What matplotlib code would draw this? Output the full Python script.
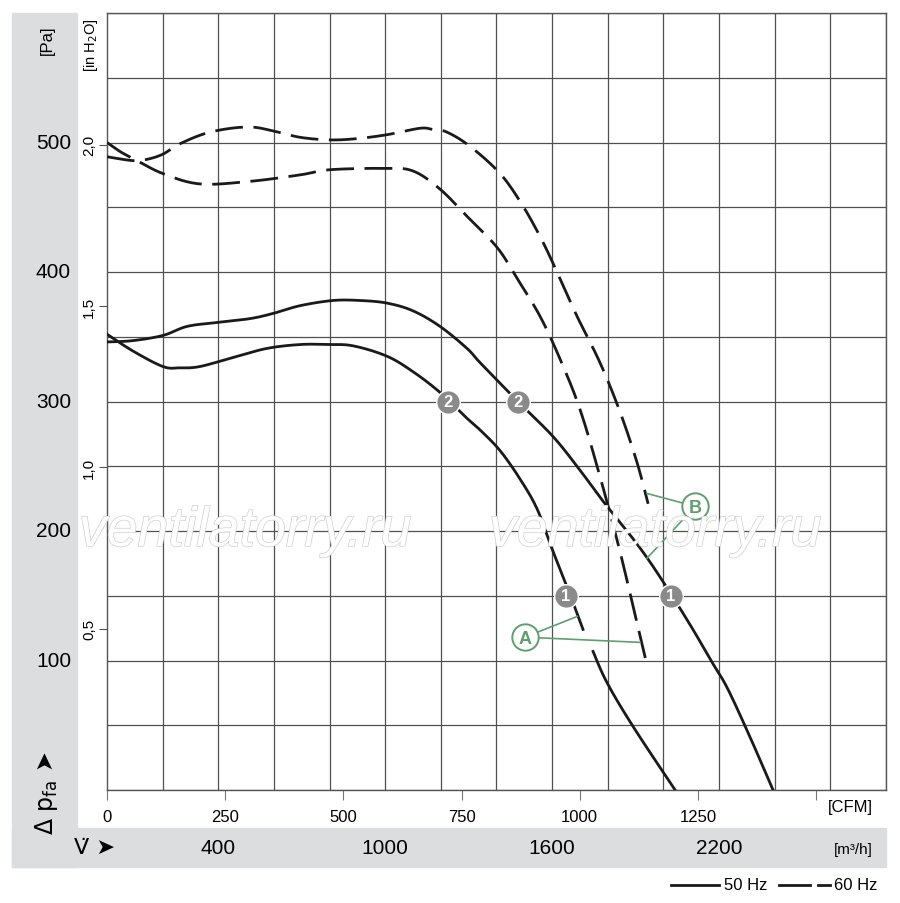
import matplotlib
matplotlib.use('Agg')
import numpy as np
import matplotlib.pyplot as plt
import matplotlib.patheffects as pe
from matplotlib.lines import Line2D
from matplotlib.patches import Rectangle
import matplotlib.transforms as mtransforms

# flow in m3/h, pressure in Pa
a50_q = [0, 93, 201, 262, 334, 453, 575, 694, 791, 884, 1006, 1100, 1197, 1294,
         1341, 1413, 1485, 1546, 1600, 1657, 1711]
a50_p = [352, 339, 327, 326, 327, 334, 341, 344, 344, 343, 335, 323, 307, 287,
         278, 262, 240, 217, 186, 155, 124]
a50_tail_q = [1747, 1797, 1891, 2042]
a50_tail_p = [107, 83, 49, 0]

b50_q = [0, 93, 201, 288, 395, 514, 597, 694, 812, 909, 1006, 1100, 1197, 1294,
         1341, 1477, 1603, 1700, 1783, 1880, 1952, 2031, 2106, 2168, 2229, 2311, 2394]
b50_p = [346, 347, 351, 358, 361, 364, 368, 374, 378, 378, 376, 370, 358, 341,
         330, 300, 273, 247, 223, 197, 176, 150, 124, 101, 79, 41, 0]

a60_q = [0, 47, 108, 201, 334, 514, 694, 802, 999, 1100, 1197, 1294, 1402, 1474,
         1556, 1628, 1700, 1772, 1844, 1916, 1937]
a60_p = [500, 493, 486, 476, 468, 470, 475, 479, 480, 478, 464, 443, 419, 395,
         366, 333, 294, 242, 184, 119, 100]

b60_q = [0, 93, 144, 201, 262, 370, 503, 597, 694, 802, 899, 1006, 1125, 1172,
         1222, 1305, 1413, 1495, 1567, 1628, 1689, 1772, 1844, 1905, 1945]
b60_p = [489, 486, 487, 491, 499, 508, 512, 509, 504, 502, 503, 506, 511, 510,
         508, 497, 476, 451, 423, 395, 366, 330, 292, 253, 221]

# numbered operating points
point_q = [1226, 1477, 1650, 2027]
point_p = [300, 300, 150, 150]
point_lbl = ['2', '2', '1', '1']

pa_ticks = [100, 200, 300, 400, 500]
inh2o_ticks = [0.5, 1.0, 1.5, 2.0]
cfm_ticks = [0, 250, 500, 750, 1000, 1250, 1500]
cfm_labels = ['0', '250', '500', '750', '1000', '1250', '']
m3h_labels = [400, 1000, 1600, 2200]

PA_PER_INH2O = 249.09
M3H_PER_CFM = 1.699


def smooth(xs, ys, n=16):
    # catmull-rom through the read points, only for drawing
    pts = np.column_stack([xs, ys]).astype(float)
    p = np.vstack([pts[0], pts, pts[-1]])
    t = np.linspace(0, 1, n, endpoint=False)[:, None]
    out = []
    for i in range(1, len(p) - 2):
        p0, p1, p2, p3 = p[i - 1], p[i], p[i + 1], p[i + 2]
        out.append(0.5 * (2 * p1 + (p2 - p0) * t
                          + (2 * p0 - 5 * p1 + 4 * p2 - p3) * t ** 2
                          + (3 * p1 - p0 - 3 * p2 + p3) * t ** 3))
    out.append(pts[-1:])
    s = np.vstack(out)
    return s[:, 0], s[:, 1]


W, H = 900, 904
fig = plt.figure(figsize=(W / 100, H / 100), dpi=100)
plt.rcParams['font.family'] = ['Liberation Sans Narrow', 'Liberation Sans', 'DejaVu Sans']

band = '#dcdddf'
fig.patches.append(Rectangle((12 / W, 1 - 868 / H), 65 / W, 854 / H,
                             transform=fig.transFigure, color=band, zorder=-1))
fig.patches.append(Rectangle((12 / W, 1 - 868 / H), 874 / W, 39 / H,
                             transform=fig.transFigure, color=band, zorder=-1))

ax = fig.add_axes([107 / W, 1 - 791 / H, 779 / W, 777 / H])
ax.set_xlim(0, 2800)
ax.set_ylim(0, 600)

# grid on minor ticks
ax.set_xticks(range(0, 2801, 200), minor=True)
ax.set_yticks(range(0, 601, 50), minor=True)
ax.grid(which='minor', color='#505050', linewidth=0.9)
ax.tick_params(which='minor', length=0)
for s in ax.spines.values():
    s.set_color('#555555')
    s.set_linewidth(1.0)

# CFM scale on the bottom
ax.set_xticks([c * M3H_PER_CFM for c in cfm_ticks])
ax.set_xticklabels(cfm_labels, fontsize=12)
ax.tick_params(axis='x', which='major', length=7, color='#777777', pad=7)

# inH2O scale on the left
ax.set_yticks([v * PA_PER_INH2O for v in inh2o_ticks])
ax.set_yticklabels([('%.1f' % v).replace('.', ',') for v in inh2o_ticks],
                   rotation=90, va='center', fontsize=11)
ax.tick_params(axis='y', which='major', length=6, color='#555555', pad=2)
ax.set_axisbelow(True)

lw = 2.0
ax.plot(*smooth(a50_q, a50_p), color='#1a1a1a', lw=lw, zorder=3)
ax.plot(*smooth(a50_tail_q, a50_tail_p), color='#1a1a1a', lw=lw, zorder=3)
ax.plot(*smooth(b50_q, b50_p), color='#1a1a1a', lw=lw, zorder=3)
ax.plot(*smooth(a60_q, a60_p), color='#1a1a1a', lw=lw, dashes=(10, 3.8), zorder=3)
ax.plot(*smooth(b60_q, b60_p), color='#1a1a1a', lw=lw, dashes=(10, 3.8), zorder=3)

for q, p, t in zip(point_q, point_p, point_lbl):
    ax.plot(q, p, 'o', ms=17, color='#8a8a8a', mec='white', mew=1.0, zorder=5)
    ax.text(q, p, t, color='white', fontsize=12, fontweight='bold',
            ha='center', va='center', zorder=6)

# A / B callouts
green = '#5f9e6e'
ax.plot([1502, 1690], [118, 134], color=green, lw=1.2, zorder=4)
ax.plot([1502, 1916], [118, 114], color=green, lw=1.2, zorder=4)
ax.plot([2114, 1941], [219, 229], color=green, lw=1.2, zorder=4)
ax.plot([2114, 1941], [219, 179], color=green, lw=1.2, zorder=4)
for q, p, t in [(1502, 118, 'A'), (2114, 219, 'B')]:
    ax.plot(q, p, 'o', ms=19, mfc='white', mec=green, mew=1.4, zorder=5)
    ax.text(q, p - 1, t, color=green, fontsize=13, fontweight='bold',
            ha='center', va='center', zorder=6)

# Pa labels inside the left band
tr_y = mtransforms.blended_transform_factory(fig.transFigure, ax.transData)
for v in pa_ticks:
    ax.text(71 / W, v, str(v), transform=tr_y, ha='right', va='center',
            fontsize=15, clip_on=False)

# m3/h labels inside the bottom band
tr_x = mtransforms.blended_transform_factory(ax.transData, fig.transFigure)
for v in m3h_labels:
    ax.text(v, 1 - 849 / H, str(v), transform=tr_x, ha='center', va='center',
            fontsize=15, clip_on=False)

fig.text(47 / W, 1 - 40 / H, '[Pa]', rotation=90, ha='center', va='center', fontsize=12)
fig.text(91 / W, 1 - 45 / H, '[in H$_2$O]', rotation=90, ha='center', va='center', fontsize=10.5)
fig.text(47 / W, 1 - 793 / H, r'$\Delta$ p$_{\mathregular{fa}}$ ➤', rotation=90,
         ha='center', va='center', fontsize=17, family=['DejaVu Sans'])
fig.text(95 / W, 1 - 848 / H, 'V̇ ➤', ha='center', va='center', fontsize=16,
         family=['DejaVu Sans'])
fig.text(873 / W, 1 - 808 / H, '[CFM]', ha='right', va='center', fontsize=12)
fig.text(873 / W, 1 - 850 / H, '[m³/h]', ha='right', va='center', fontsize=11)

# legend
fig.lines.append(Line2D([671 / W, 719 / W], [1 - 886 / H] * 2, transform=fig.transFigure,
                        color='#1a1a1a', lw=2))
fig.text(724 / W, 1 - 886 / H, '50 Hz', ha='left', va='center', fontsize=12)
fig.lines.append(Line2D([779 / W, 810 / W], [1 - 886 / H] * 2, transform=fig.transFigure,
                        color='#1a1a1a', lw=2))
fig.lines.append(Line2D([818 / W, 830 / W], [1 - 886 / H] * 2, transform=fig.transFigure,
                        color='#1a1a1a', lw=2))
fig.text(834 / W, 1 - 886 / H, '60 Hz', ha='left', va='center', fontsize=12)

# watermark
for cx in (245, 655):
    fig.text(cx / W, 1 - 533 / H, 'ventilatorry.ru', ha='center', va='center',
             fontsize=40, fontstyle='italic', color='white', family=['Liberation Sans'],
             path_effects=[pe.withStroke(linewidth=1.0, foreground='#cfcfcf')], zorder=2)

fig.savefig('out.png', dpi=100)
